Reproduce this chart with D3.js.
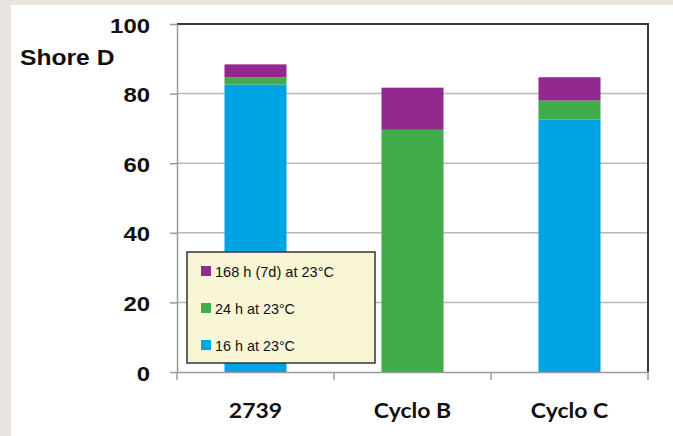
<!DOCTYPE html>
<html>
<head>
<meta charset="utf-8">
<script src="https://cdn.jsdelivr.net/npm/d3@7"></script>
<style>
  html, body { margin: 0; padding: 0; background: #e9e5de; }
  svg { display: block; }
</style>
</head>
<body>
<svg id="chart" width="673" height="436"></svg>
<script>
// Shore D hardness after curing at 23°C
const categories = ["2739", "Cyclo B", "Cyclo C"];
const cure16h  = [82.6, 0, 72.5];
const cure24h  = [2.1, 69.6, 5.5];
const cure168h = [3.7, 12.1, 6.7];
const seriesNames = ["16 h at 23°C", "24 h at 23°C", "168 h (7d) at 23°C"];
const seriesColors = ["#00a4e2", "#40ad4a", "#93288e"];
const yTicks = [0, 20, 40, 60, 80, 100];

const rows = categories.map((c, i) => ({
  cat: c, s0: cure16h[i], s1: cure24h[i], s2: cure168h[i]
}));

const svg = d3.select("#chart");
const W = 673, H = 436;
const plot = { left: 177, right: 648, top: 24, bottom: 372 };

// white panel over the beige page
svg.append("rect").attr("x", 11).attr("y", 5)
  .attr("width", W - 11).attr("height", H - 5).attr("fill", "#ffffff");

const x = d3.scaleBand().domain(categories)
  .range([plot.left, plot.right]).paddingInner(0.605).paddingOuter(0.3025);
const y = d3.scaleLinear().domain([0, 100]).range([plot.bottom, plot.top]);

// gridlines
svg.append("g").selectAll("line").data(yTicks.filter(t => t > 0 && t < 100)).join("line")
  .attr("x1", plot.left).attr("x2", plot.right)
  .attr("y1", d => y(d)).attr("y2", d => y(d))
  .attr("stroke", "#b8b8b8").attr("stroke-width", 1.5);

// stacked bars
const stack = d3.stack().keys(["s0", "s1", "s2"]);
const layers = stack(rows);
svg.append("g").selectAll("g").data(layers).join("g")
  .attr("fill", (d, i) => seriesColors[i])
  .selectAll("rect").data(d => d).join("rect")
  .attr("x", d => x(d.data.cat))
  .attr("width", x.bandwidth())
  .attr("y", d => y(d[1]))
  .attr("height", d => Math.max(0, y(d[0]) - y(d[1])));

// plot frame: dark top/right, grey left/bottom
svg.append("line").attr("x1", plot.left).attr("x2", plot.right + 1)
  .attr("y1", plot.top).attr("y2", plot.top)
  .attr("stroke", "#3a3a3a").attr("stroke-width", 2);
svg.append("line").attr("x1", plot.right).attr("x2", plot.right)
  .attr("y1", plot.top).attr("y2", plot.bottom)
  .attr("stroke", "#3a3a3a").attr("stroke-width", 2);

// y axis
const yAxis = svg.append("g").attr("transform", `translate(${plot.left},0)`)
  .call(d3.axisLeft(y).tickValues(yTicks).tickSize(7).tickSizeOuter(0));
yAxis.select(".domain").attr("stroke", "#9a9a9a").attr("stroke-width", 1.5);
yAxis.selectAll(".tick line").attr("stroke", "#9a9a9a").attr("stroke-width", 1.5);
yAxis.selectAll(".tick text")
  .attr("x", null).attr("dy", null)
  .attr("transform", "translate(-27,8) scale(1.14,1)")
  .attr("font-family", "'Liberation Sans', Arial, sans-serif")
  .attr("font-weight", "bold").attr("font-size", 21).attr("fill", "#111");

// x axis
const xAxis = svg.append("g").attr("transform", `translate(0,${plot.bottom})`)
  .call(d3.axisBottom(x).tickSize(0).tickSizeOuter(0));
xAxis.select(".domain").attr("stroke", "#9a9a9a").attr("stroke-width", 1.5);
xAxis.selectAll(".tick text")
  .attr("y", null).attr("dy", null)
  .attr("transform", "translate(0,46) scale(1.15,1)")
  .attr("font-family", "Lato, 'Open Sans', sans-serif")
  .attr("font-weight", "bold").attr("font-size", 20).attr("fill", "#111");
// tick marks at category boundaries
const bounds = categories.map(c => x(c) - x.step() * x.paddingInner() / 2);
bounds.push(plot.right);
xAxis.append("g").selectAll("line").data(bounds).join("line")
  .attr("x1", d => d).attr("x2", d => d).attr("y1", 0).attr("y2", 8)
  .attr("stroke", "#9a9a9a").attr("stroke-width", 1.5);

// axis title
svg.append("text").attr("transform", "translate(20,65) scale(1.12,1)")
  .attr("font-family", "'Liberation Sans', Arial, sans-serif")
  .attr("font-weight", "bold").attr("font-size", 22).attr("fill", "#111")
  .text("Shore D");

// legend
const lg = svg.append("g").attr("transform", "translate(187,252)");
lg.append("rect").attr("width", 188).attr("height", 111)
  .attr("fill", "#f8f6d5").attr("stroke", "#333").attr("stroke-width", 1.5);
const legendOrder = [2, 1, 0];
const textWidths = [80, 80, 119];
legendOrder.forEach((si, row) => {
  const cy = 20 + row * 37;
  lg.append("rect").attr("x", 14).attr("y", cy - 6).attr("width", 10).attr("height", 10)
    .attr("fill", seriesColors[si]);
  lg.append("text").attr("x", 28).attr("y", cy + 5)
    .attr("font-family", "'Liberation Sans Narrow', 'Liberation Sans', Arial, sans-serif")
    .attr("font-size", 15).attr("fill", "#111")
    .attr("textLength", textWidths[si]).attr("lengthAdjust", "spacingAndGlyphs")
    .text(seriesNames[si]);
});
</script>
</body>
</html>
